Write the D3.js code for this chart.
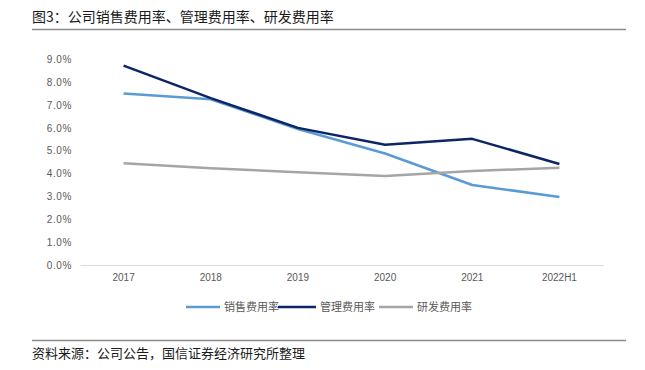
<!DOCTYPE html>
<html><head><meta charset="utf-8">
<script src="https://cdn.jsdelivr.net/npm/d3@7"></script>
<style>
html,body{margin:0;padding:0;background:#fff;}
svg{display:block;font-family:"Noto Sans CJK SC","Noto Sans",sans-serif;}
</style></head>
<body>
<svg id="c" width="645" height="370"></svg>
<script>
const categories = ["2017","2018","2019","2020","2021","2022H1"];
const salesRate = [7.5, 7.25, 5.95, 4.88, 3.5, 2.98];
const adminRate = [8.72, 7.3, 6.0, 5.26, 5.52, 4.42];
const rdRate = [4.45, 4.23, 4.06, 3.89, 4.11, 4.26];
const yTicks = [0,1,2,3,4,5,6,7,8,9];
const seriesNames = ["销售费用率","管理费用率","研发费用率"];
const titleText = "图3：公司销售费用率、管理费用率、研发费用率";
const sourceText = "资料来源：公司公告，国信证券经济研究所整理";

const series = [
  {name: seriesNames[0], values: salesRate, color: "#5B9BD5"},
  {name: seriesNames[1], values: adminRate, color: "#0B2565"},
  {name: seriesNames[2], values: rdRate, color: "#A5A5A5"}
];

const svg = d3.select("#c");

// title & rules
svg.append("text").attr("x", 32).attr("y", 22).attr("font-size", 14).attr("fill", "#1a1a1a").text(titleText);
svg.append("line").attr("x1", 32).attr("x2", 626).attr("y1", 29.5).attr("y2", 29.5).attr("stroke", "#8c8c8c").attr("stroke-width", 1.3);
svg.append("line").attr("x1", 32).attr("x2", 626).attr("y1", 340.5).attr("y2", 340.5).attr("stroke", "#8c8c8c").attr("stroke-width", 1.3);
svg.append("text").attr("x", 32).attr("y", 358).attr("font-size", 13).attr("fill", "#1a1a1a").text(sourceText);

const x = d3.scaleBand().domain(categories).range([80, 603]).padding(0);
const y = d3.scaleLinear().domain([0, 9]).range([265, 59.3]);

// y axis labels
const yAxis = svg.append("g").attr("transform", "translate(72,0)")
  .call(d3.axisLeft(y).tickValues(yTicks).tickSize(0).tickPadding(0).tickFormat(d => d3.format(".1f")(d) + "%"));
yAxis.select(".domain").remove();
yAxis.selectAll("text").attr("font-size", 10).attr("fill", "#595959").attr("font-family", "Liberation Sans, Arial, sans-serif").attr("letter-spacing", "0.6px");

// x axis
const xAxis = svg.append("g").attr("transform", `translate(0,${y(0)})`)
  .call(d3.axisBottom(x).tickSize(0).tickPadding(9));
xAxis.select(".domain").attr("stroke", "#D9D9D9").attr("stroke-width", 1);
xAxis.selectAll("text").attr("font-size", 10).attr("fill", "#595959").attr("font-family", "Liberation Sans, Arial, sans-serif");

const line = d3.line().x((d, i) => x(categories[i]) + x.bandwidth() / 2).y(d => y(d));

series.forEach(s => {
  svg.append("path").datum(s.values).attr("d", line).attr("fill", "none")
    .attr("stroke", s.color).attr("stroke-width", 2.5).attr("stroke-linejoin", "round");
});

// legend
const legendX = [186, 278, 379];
const lg = svg.append("g");
series.forEach((s, i) => {
  const g = lg.append("g").attr("transform", `translate(${legendX[i]},307)`);
  g.append("line").attr("x1", 0).attr("x2", i === 1 ? 38 : 34).attr("y1", 0).attr("y2", 0).attr("stroke", s.color).attr("stroke-width", 2.5);
  g.append("text").attr("x", i === 1 ? 42 : 38).attr("y", 4).attr("font-size", 11).attr("fill", "#595959").text(s.name);
});
</script>
</body></html>
